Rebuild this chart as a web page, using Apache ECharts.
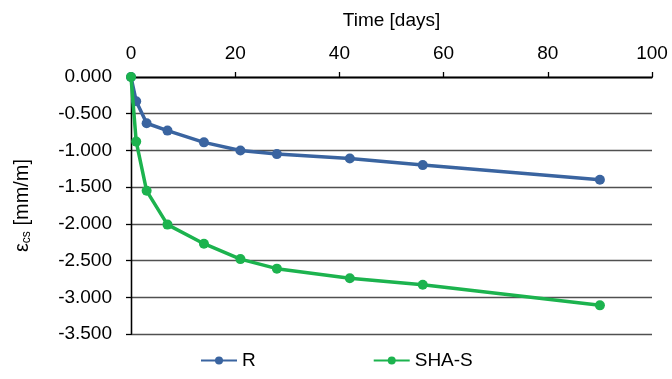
<!DOCTYPE html>
<html>
<head>
<meta charset="utf-8">
<script src="https://cdn.jsdelivr.net/npm/echarts@6/dist/echarts.min.js"></script>
<style>
  html, body { margin: 0; padding: 0; background: #fff; }
  #chart { width: 672px; height: 379px; }
</style>
</head>
<body>
<div id="chart"></div>
<script>
// Shrinkage strain over time for two mixes
const days = [0, 1, 3, 7, 14, 21, 28, 42, 56, 90];
const strainR = [0, -0.33, -0.63, -0.73, -0.89, -1.00, -1.05, -1.11, -1.20, -1.40];
const strainSHAS = [0, -0.88, -1.55, -2.01, -2.27, -2.48, -2.61, -2.74, -2.83, -3.11];
const seriesNames = ['R', 'SHA-S'];
const xTicks = [0, 20, 40, 60, 80, 100];
const yTicks = [0, -0.5, -1.0, -1.5, -2.0, -2.5, -3.0, -3.5];

const FONT = '"Liberation Sans", Arial, sans-serif';
const pairs = (ys) => days.map((d, i) => [d, ys[i]]);

const chart = echarts.init(document.getElementById('chart'), null, { renderer: 'canvas' });
chart.setOption({
  animation: false,
  grid: { left: 131, right: 20, top: 77, bottom: 45 },
  legend: {
    top: 351,
    left: 200,
    padding: 0,
    itemGap: 117,
    itemWidth: 36,
    itemHeight: 10,
    textStyle: { fontFamily: FONT, fontSize: 19, color: '#000' },
    data: seriesNames
  },
  xAxis: [{
    type: 'value',
    position: 'top',
    min: xTicks[0],
    max: xTicks[xTicks.length - 1],
    interval: xTicks[1] - xTicks[0],
    name: 'Time [days]',
    nameLocation: 'middle',
    nameGap: 47,
    nameTextStyle: { fontFamily: FONT, fontSize: 19, color: '#000' },
    axisLine: { show: true, lineStyle: { color: '#000', width: 1.3 } },
    axisTick: { show: true, length: 5, lineStyle: { color: '#000', width: 1.3 } },
    axisLabel: { fontFamily: FONT, fontSize: 19, color: '#000', margin: 14 },
    splitLine: { show: false }
  }, {
    type: 'value',
    position: 'bottom',
    min: xTicks[0],
    max: xTicks[xTicks.length - 1],
    axisLine: { show: true, lineStyle: { color: '#000', width: 1.3 } },
    axisTick: { show: false },
    axisLabel: { show: false },
    splitLine: { show: false }
  }],
  yAxis: [{
    type: 'value',
    min: yTicks[yTicks.length - 1],
    max: yTicks[0],
    interval: 0.5,
    name: '{a|ε}{b|cs}{a| [mm/m]}',
    nameLocation: 'middle',
    nameGap: 98,
    nameRotate: 90,
    nameTextStyle: {
      rich: {
        a: { fontFamily: FONT, fontSize: 20, color: '#000' },
        b: { fontFamily: FONT, fontSize: 12, color: '#000', padding: [10, 0, 0, 0] }
      }
    },
    axisLine: { show: true, onZero: false, lineStyle: { color: '#000', width: 1.3 } },
    axisTick: { show: true, length: 5, lineStyle: { color: '#000', width: 1.3 } },
    axisLabel: {
      fontFamily: FONT, fontSize: 19, color: '#000', margin: 19,
      formatter: (v) => v.toFixed(3)
    },
    splitLine: { show: true, lineStyle: { color: '#505050', width: 1.3 } }
  }, {
    type: 'value',
    position: 'right',
    min: yTicks[yTicks.length - 1],
    max: yTicks[0],
    axisLine: { show: true, lineStyle: { color: '#000', width: 1.3 } },
    axisTick: { show: false },
    axisLabel: { show: false },
    splitLine: { show: false }
  }],
  series: [{
    name: seriesNames[0],
    type: 'line',
    data: pairs(strainR),
    color: '#3a64a0',
    lineStyle: { width: 3.5 },
    symbol: 'circle',
    symbolSize: 10,
    z: 3
  }, {
    name: seriesNames[1],
    type: 'line',
    data: pairs(strainSHAS),
    color: '#1cb34e',
    lineStyle: { width: 3.5 },
    symbol: 'circle',
    symbolSize: 10,
    z: 4
  }]
});
</script>
</body>
</html>
